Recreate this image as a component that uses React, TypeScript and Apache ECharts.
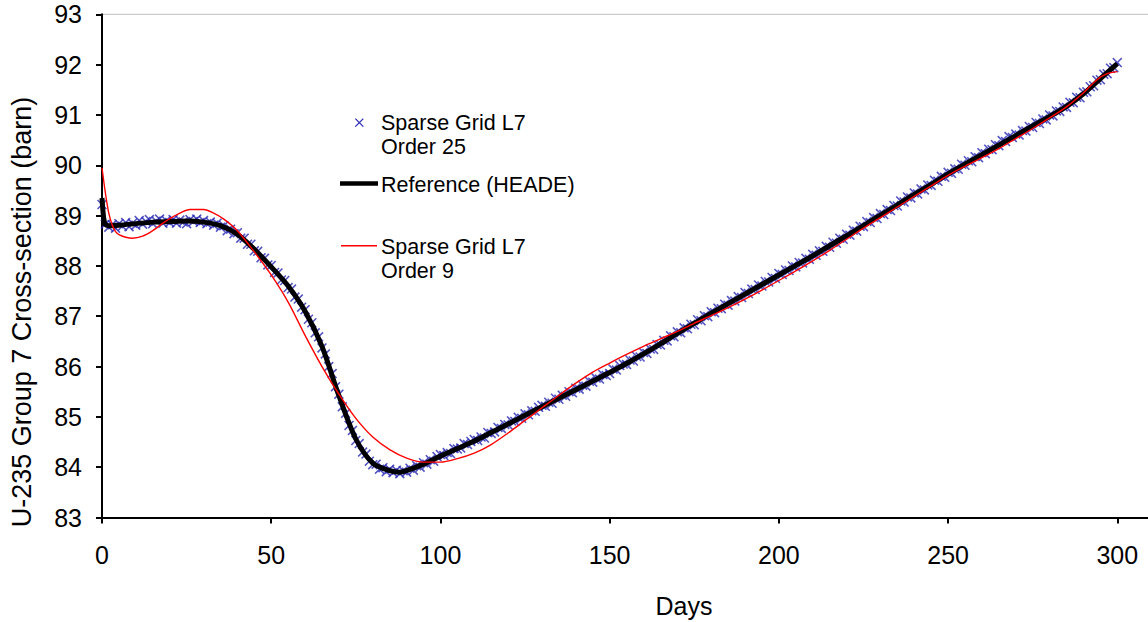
import React, { useEffect, useRef } from "react";
import * as echarts from "echarts";

// Reference (HEADE) – black thick line
const refDays = [0, 0.5, 1, 2, 5, 10, 15, 20, 25, 30, 35, 40, 45, 50, 55, 60, 65, 70, 75, 80, 85, 88, 90, 95,
  100, 105, 110, 115, 120, 125, 130, 135, 140, 145, 150, 155, 160, 165, 170, 175, 180, 185, 190, 195,
  200, 205, 210, 215, 220, 225, 230, 235, 240, 245, 250, 255, 260, 265, 270, 275, 280, 285, 290, 295, 300];
const refValues = [89.35, 88.95, 88.82, 88.8, 88.81, 88.84, 88.87, 88.88, 88.89, 88.87, 88.8, 88.63, 88.33, 87.98,
  87.6, 87.1, 86.4, 85.42, 84.56, 84.08, 83.93, 83.9, 83.93, 84.06,
  84.22, 84.37, 84.52, 84.69, 84.86, 85.03, 85.2, 85.37, 85.54, 85.71, 85.88, 86.06, 86.25, 86.45, 86.66, 86.86,
  87.06, 87.25, 87.44, 87.63, 87.82, 88.01, 88.2, 88.4, 88.6, 88.8, 89.01, 89.21, 89.42, 89.62, 89.83, 90.02,
  90.21, 90.4, 90.59, 90.78, 90.97, 91.17, 91.42, 91.72, 92.02];

// Sparse Grid L7 Order 9 – red thin line
const o9Days = [0, 1, 2, 3, 4, 5, 7, 9, 12, 15, 18, 20, 23, 26, 30, 33, 36, 40, 45, 50, 55, 60, 65, 70, 75, 80, 85,
  90, 95, 100, 105, 110, 115, 120, 125, 130, 135, 140, 145, 150, 155, 160, 165, 170, 175, 180, 185, 190, 195,
  200, 205, 210, 215, 220, 225, 230, 235, 240, 245, 250, 255, 260, 265, 270, 275, 280, 285, 290, 294, 297, 300];
const o9Values = [89.95, 89.45, 89.05, 88.82, 88.68, 88.62, 88.57, 88.55, 88.59, 88.7, 88.85, 88.94, 89.05, 89.12,
  89.12, 89.05, 88.93, 88.7, 88.28, 87.82, 87.28, 86.62, 86.0, 85.45, 84.97, 84.6, 84.35, 84.18, 84.1, 84.1,
  84.17, 84.28, 84.45, 84.68, 84.93, 85.18, 85.43, 85.67, 85.89, 86.07, 86.24, 86.4, 86.55, 86.7, 86.86, 87.01,
  87.17, 87.34, 87.52, 87.71, 87.9, 88.1, 88.31, 88.53, 88.75, 88.96, 89.17, 89.38, 89.59, 89.8, 89.98, 90.15,
  90.33, 90.53, 90.73, 90.94, 91.16, 91.44, 91.7, 91.82, 91.86];

// Sparse Grid L7 Order 25 – blue × markers, one per day (day 0 .. 300)
const o25Values = [
  89.22, 88.83, 88.77, 88.82, 88.75, 88.84, 88.79, 88.86, 88.78, 88.85,
  88.81, 88.9, 88.83, 88.88, 88.92, 88.84, 88.89, 88.93, 88.85, 88.9,
  88.86, 88.92, 88.85, 88.91, 88.87, 88.84, 88.92, 88.88, 88.93, 88.86,
  88.9, 88.84, 88.87, 88.81, 88.85, 88.77, 88.8, 88.7, 88.73, 88.64,
  88.66, 88.55, 88.55, 88.43, 88.43, 88.3, 88.29, 88.16, 88.15, 88.02,
  88.01, 87.87, 87.86, 87.72, 87.71, 87.57, 87.54, 87.38, 87.34, 87.18,
  87.13, 86.94, 86.87, 86.67, 86.59, 86.37, 86.25, 86.0, 85.86, 85.6,
  85.45, 85.2, 85.07, 84.83, 84.73, 84.53, 84.47, 84.3, 84.26, 84.12,
  84.05, 84.06, 83.96, 83.99, 83.91, 83.96, 83.89, 83.94, 83.87, 83.93,
  83.9, 83.98, 83.94, 84.03, 84.0, 84.09, 84.06, 84.15, 84.12, 84.21,
  84.25, 84.23, 84.29, 84.27, 84.37, 84.36, 84.38, 84.47, 84.45, 84.51,
  84.55, 84.53, 84.6, 84.58, 84.69, 84.67, 84.7, 84.79, 84.77, 84.85,
  84.84, 84.92, 84.91, 84.99, 84.97, 85.06, 85.04, 85.12, 85.11, 85.19,
  85.23, 85.21, 85.29, 85.27, 85.37, 85.35, 85.43, 85.41, 85.5, 85.48,
  85.57, 85.55, 85.63, 85.61, 85.71, 85.69, 85.77, 85.75, 85.84, 85.82,
  85.86, 85.95, 85.93, 86.02, 86.05, 86.04, 86.13, 86.11, 86.2, 86.19,
  86.28, 86.26, 86.35, 86.34, 86.44, 86.43, 86.52, 86.51, 86.61, 86.59,
  86.69, 86.67, 86.77, 86.75, 86.84, 86.83, 86.93, 86.91, 87.01, 86.99,
  87.09, 87.07, 87.16, 87.15, 87.24, 87.22, 87.31, 87.3, 87.39, 87.37,
  87.47, 87.45, 87.54, 87.53, 87.62, 87.6, 87.69, 87.68, 87.77, 87.75,
  87.85, 87.83, 87.92, 87.91, 88.0, 87.98, 88.07, 88.06, 88.15, 88.13,
  88.23, 88.21, 88.3, 88.29, 88.39, 88.37, 88.47, 88.45, 88.55, 88.53,
  88.63, 88.61, 88.71, 88.69, 88.79, 88.78, 88.88, 88.86, 88.96, 88.94,
  89.04, 89.02, 89.12, 89.1, 89.2, 89.19, 89.29, 89.27, 89.37, 89.35,
  89.45, 89.43, 89.53, 89.51, 89.61, 89.6, 89.7, 89.68, 89.78, 89.76,
  89.86, 89.84, 89.93, 89.92, 90.02, 90.0, 90.09, 90.07, 90.17, 90.15,
  90.25, 90.23, 90.32, 90.31, 90.41, 90.39, 90.49, 90.47, 90.57, 90.55,
  90.62, 90.6, 90.69, 90.68, 90.77, 90.75, 90.85, 90.83, 90.92, 90.9,
  91.0, 90.98, 91.08, 91.07, 91.16, 91.15, 91.25, 91.24, 91.35, 91.34,
  91.45, 91.46, 91.56, 91.58, 91.69, 91.7, 91.81, 91.82, 91.93, 91.94,
  92.04,
];

const xTicks = [0, 50, 100, 150, 200, 250, 300];
const yMin = 83;
const yMax = 93;

const FONT = "'Liberation Sans', Arial, sans-serif";
const BLUE = "#2828b4";
const CROSS = "path://M0,1.1L1.1,0L5,3.9L8.9,0L10,1.1L6.1,5L10,8.9L8.9,10L5,6.1L1.1,10L0,8.9L3.9,5Z";

export default function App() {
  const ref = useRef<HTMLDivElement>(null);
  useEffect(() => {
    if (!ref.current) return;
    const chart = echarts.init(ref.current, null, { renderer: "svg" });
    const pxPerDay = 1015.3 / 300;
    const xMax = 320;
    chart.setOption({
      animation: false,
      backgroundColor: "#ffffff",
      textStyle: { fontFamily: FONT },
      grid: {
        left: 102,
        top: 14.3,
        width: xMax * pxPerDay,
        height: 503.2,
        show: true,
        borderColor: "#c0c0c0",
        borderWidth: 1,
        backgroundColor: "transparent",
      },
      xAxis: {
        type: "value",
        min: 0,
        max: xMax,
        interval: 50,
        splitLine: { show: false },
        axisLine: { show: true, onZero: false, lineStyle: { color: "#000", width: 2 } },
        axisTick: { show: true, inside: false, length: 6, lineStyle: { color: "#000", width: 2 } },
        axisLabel: {
          color: "#000",
          fontSize: 25,
          fontFamily: FONT,
          margin: 25,
          formatter: (v: number) => (xTicks.includes(v) ? String(v) : ""),
        },
      },
      yAxis: {
        type: "value",
        min: yMin,
        max: yMax,
        interval: 1,
        splitLine: { show: false },
        axisLine: { show: true, onZero: false, lineStyle: { color: "#000", width: 2 } },
        axisTick: { show: true, inside: false, length: 6, lineStyle: { color: "#000", width: 2 } },
        axisLabel: { color: "#000", fontSize: 25, fontFamily: FONT, margin: 20 },
      },
      series: [
        {
          name: "Sparse Grid L7 Order 25",
          type: "scatter",
          data: o25Values.map((v, i) => [i, v]),
          symbol: CROSS,
          symbolSize: 10,
          itemStyle: { color: BLUE },
          silent: true,
        },
        {
          name: "Reference (HEADE)",
          type: "line",
          data: refDays.map((d, i) => [d, refValues[i]]),
          showSymbol: false,
          smooth: 0.3,
          lineStyle: { color: "#000", width: 5 },
          silent: true,
        },
        {
          name: "Sparse Grid L7 Order 9",
          type: "line",
          data: o9Days.map((d, i) => [d, o9Values[i]]),
          showSymbol: false,
          smooth: 0.3,
          lineStyle: { color: "#ff0000", width: 1.4 },
          silent: true,
        },
      ],
      graphic: [
        // legend
        { type: "line", shape: { x1: 355.3, y1: 118.7, x2: 363.3, y2: 126.7 }, style: { stroke: BLUE, lineWidth: 1.2 } },
        { type: "line", shape: { x1: 363.3, y1: 118.7, x2: 355.3, y2: 126.7 }, style: { stroke: BLUE, lineWidth: 1.2 } },
        {
          type: "text", x: 381, y: 111,
          style: { text: "Sparse Grid L7\nOrder 25", fill: "#000", font: `21.5px ${FONT}`, lineHeight: 24, verticalAlign: "top" },
        },
        { type: "line", shape: { x1: 340, y1: 183.5, x2: 378, y2: 183.5 }, style: { stroke: "#000", lineWidth: 4.5 } },
        {
          type: "text", x: 381, y: 173,
          style: { text: "Reference (HEADE)", fill: "#000", font: `21.5px ${FONT}`, lineHeight: 24, verticalAlign: "top" },
        },
        { type: "line", shape: { x1: 341, y1: 245.7, x2: 377, y2: 245.7 }, style: { stroke: "#ff0000", lineWidth: 1.4 } },
        {
          type: "text", x: 381, y: 234.5,
          style: { text: "Sparse Grid L7\nOrder 9", fill: "#000", font: `21.5px ${FONT}`, lineHeight: 24, verticalAlign: "top" },
        },
        // axis titles
        {
          type: "text", x: 684, y: 606,
          style: { text: "Days", fill: "#000", font: `25px ${FONT}`, align: "center", verticalAlign: "middle" },
        },
        {
          type: "text", x: 22, y: 312, rotation: Math.PI / 2,
          style: { text: "U-235 Group 7 Cross-section (barn)", fill: "#000", font: `27px ${FONT}`, align: "center", verticalAlign: "middle" },
        },
      ],
    });
    return () => chart.dispose();
  }, []);
  return (
    <div style={{ position: "fixed", left: 0, top: 0, width: 1148, height: 622, overflow: "hidden", background: "#fff" }}>
      <div ref={ref} style={{ width: 1200, height: 622 }} />
    </div>
  );
}
